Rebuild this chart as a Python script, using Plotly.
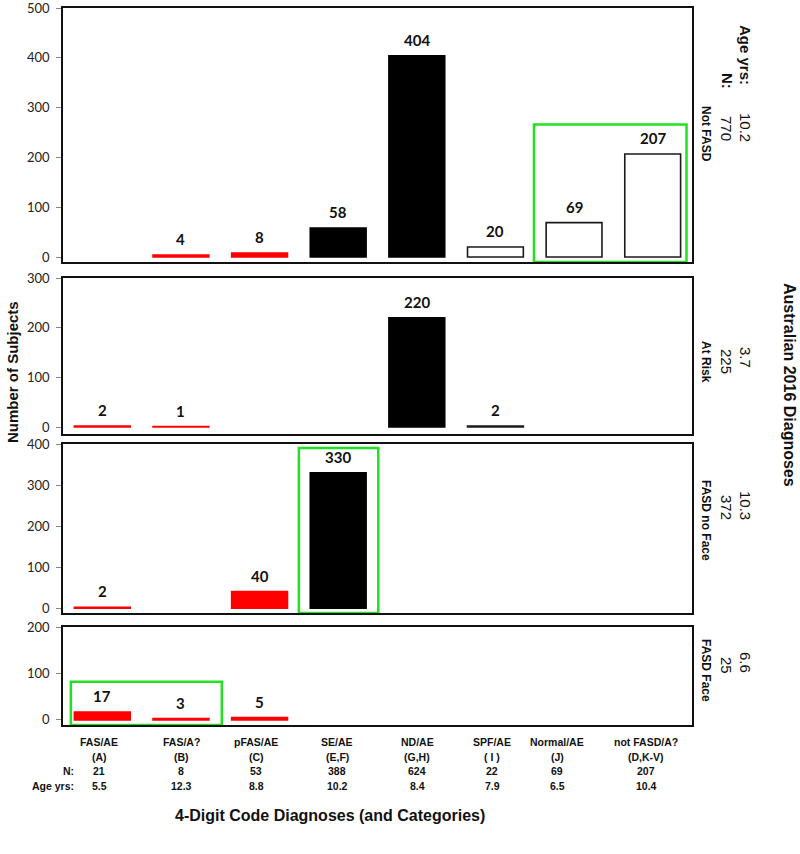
import plotly.graph_objects as go

# ---------------- data ----------------
categories = ["FAS/AE", "FAS/A?", "pFAS/AE", "SE/AE", "ND/AE", "SPF/AE", "Normal/AE", "not FASD/A?"]
codes = ["(A)", "(B)", "(C)", "(E,F)", "(G,H)", "( I )", "(J)", "(D,K-V)"]
n_total = [21, 8, 53, 388, 624, 22, 69, 207]
age_total = ["5.5", "12.3", "8.8", "10.2", "8.4", "7.9", "6.5", "10.4"]

not_fasd = [None, 4, 8, 58, 404, 20, 69, 207]
at_risk = [2, 1, None, None, 220, 2, None, None]
fasd_no_face = [2, None, 40, 330, None, None, None, None]
fasd_face = [17, 3, 5, None, None, None, None, None]

panel_values = [not_fasd, at_risk, fasd_no_face, fasd_face]
panel_names = ["Not FASD", "At Risk", "FASD no Face", "FASD Face"]
panel_n = ["770", "225", "372", "25"]
panel_age = ["10.2", "3.7", "10.3", "6.6"]
panel_ymax = [500, 300, 400, 200]

bar_colors = ["#ff0000", "#ff0000", "#ff0000", "#000000", "#000000", "#ffffff", "#ffffff", "#ffffff"]
bar_lines = ["#ff0000", "#ff0000", "#ff0000", "#000000", "#000000", "#1a1a1a", "#1a1a1a", "#1a1a1a"]

# ---------------- layout helpers ----------------
W, H = 800, 854
L, R, T, B = 63, 108, 8, 129
PW, PH = W - L - R, H - T - B

def px(xp):
    return (xp - L) / PW

def py(yp):
    return (H - B - yp) / PH

# panel pixel extents (top, bottom)
panel_px = [(8, 262), (278, 434), (444, 613), (627, 725)]
panel_ymin = [-10, -14, -12, -11]

fig = go.Figure()
CAL = "Lato, Calibri, Carlito, sans-serif"
ARI = "Liberation Sans, Arial, sans-serif"
NARROW = "Liberation Sans Narrow, Arial Narrow, Liberation Sans, Arial, sans-serif"

def note(xp, yp, text, font, angle=0, xanchor="center"):
    fig.add_annotation(x=px(xp), y=py(yp), xref="paper", yref="paper", text=text,
                       textangle=angle, showarrow=False, xanchor=xanchor, yanchor="middle",
                       font=font)

for i, vals in enumerate(panel_values):
    xa = "x" if i == 0 else f"x{i+1}"
    ya = "y" if i == 0 else f"y{i+1}"
    fig.add_trace(go.Bar(
        x=categories, y=vals, xaxis=xa, yaxis=ya,
        width=0.71,
        marker=dict(color=bar_colors, line=dict(color=bar_lines, width=1.6)),
        showlegend=False, hoverinfo="x+y",
    ))
    for c, v in zip(categories, vals):
        if v is None:
            continue
        fig.add_annotation(x=c, y=v, xref=xa, yref=ya, text=f"<b>{v}</b>",
                           showarrow=False, xanchor="center", yanchor="bottom", yshift=5,
                           font=dict(family=CAL, size=15, color="#111"))
    top, bot = panel_px[i]
    suffix = "" if i == 0 else str(i + 1)
    fig.layout["xaxis" + suffix] = dict(
        domain=[0, 1], anchor=ya, range=[-0.5, 7.5], showticklabels=False,
        showline=True, mirror=True, linecolor="#111", linewidth=1.6,
        showgrid=False, zeroline=False, ticks="", automargin=False,
        type="category", categoryorder="array", categoryarray=categories,
    )
    fig.layout["yaxis" + suffix] = dict(
        domain=[py(bot), py(top)], anchor=xa, range=[panel_ymin[i], panel_ymax[i]],
        tickvals=list(range(0, panel_ymax[i] + 1, 100)),
        ticks="outside", ticklen=5, tickcolor="#888", tickwidth=1,
        showline=True, mirror=True, linecolor="#111", linewidth=1.6,
        showgrid=False, zeroline=False, automargin=False,
        tickfont=dict(family=CAL, size=13, color="#222"),
        ticklabelstandoff=4, ticklabeloverflow="allow",
    )

# green highlight boxes
green = "#22e022"
boxes = [("x", "y", 5.49, 7.43, -10, 266),
         ("x3", "y3", 2.50, 3.51, -12, 390),
         ("x4", "y4", -0.40, 1.52, -11, 82)]
for xa, ya, x0, x1, y0, y1 in boxes:
    fig.add_shape(type="rect", xref=xa, yref=ya, x0=x0, x1=x1, y0=y0, y1=y1,
                  line=dict(color=green, width=2.5), fillcolor="rgba(0,0,0,0)")

# right-side panel labels
big = dict(family=ARI, size=15, color="#111")
right_pos = [(55, 127, 81, 128, 134), (None, 357, None, 361, 362),
             (None, 505, None, 507, 520), (None, 662, None, 665, 670)]
for i in range(4):
    a_head, a_val, n_head, n_val, name_y = right_pos[i]
    if a_head is not None:
        note(746, a_head, "<b>Age yrs:</b>", big, 90)
        note(727, n_head, "<b>N:</b>", big, 90)
    note(746, a_val, panel_age[i], big, 90)
    note(727, n_val, panel_n[i], big, 90)
    note(706, name_y, f"<b>{panel_names[i]}</b>", dict(family=ARI, size=12, color="#111"), 90)

note(790, 385, "<b>Australian 2016 Diagnoses</b>", dict(family=ARI, size=16, color="#111"), 90)
note(12, 372, "<b>Number of Subjects</b>", dict(family=ARI, size=15, color="#111"), -90)
note(330, 815, "<b>4-Digit Code Diagnoses (and Categories)</b>", dict(family=ARI, size=16, color="#111"))

# bottom table
table_x = [99, 181, 256, 337, 417, 492, 557, 646]
rows_y = [742, 757, 771, 786]
tf = dict(family=NARROW, size=10.5, color="#111")
for j in range(len(categories)):
    for ry, txt in zip(rows_y, [categories[j], codes[j], str(n_total[j]), age_total[j]]):
        note(table_x[j], ry, f"<b>{txt}</b>", tf)
for ry, txt in [(771, "N:"), (786, "Age yrs:")]:
    note(76, ry, f"<b>{txt}</b>", tf, 0, "right")

fig.update_layout(
    width=W, height=H, margin=dict(l=L, r=R, t=T, b=B, autoexpand=False),
    paper_bgcolor="white", plot_bgcolor="white", showlegend=False, bargap=0.29,
)

fig.write_html("out.html", config={"displayModeBar": False},
               post_script="document.body.style.margin='0';")
